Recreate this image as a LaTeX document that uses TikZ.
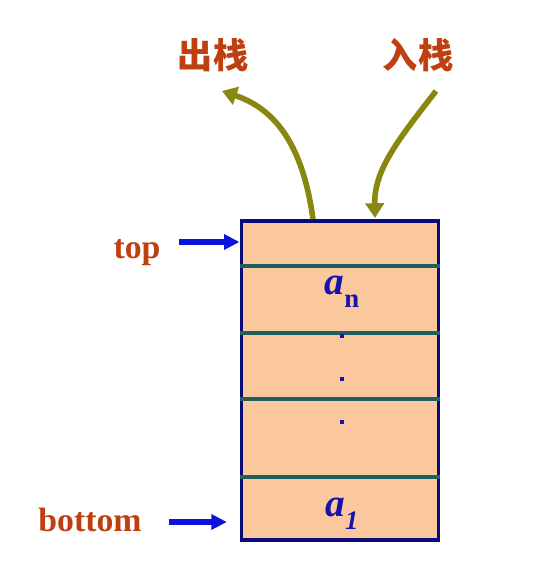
\documentclass[tikz,border=0pt]{standalone}
\usepackage{fontspec}
\setmainfont{Liberation Serif}
\newfontfamily\cjk{Noto Sans CJK SC}
\usetikzlibrary{arrows.meta}
\definecolor{rust}{RGB}{190,64,16}
\definecolor{peach}{RGB}{250,200,156}
\definecolor{navy}{RGB}{10,10,120}
\definecolor{teal}{RGB}{30,96,96}
\definecolor{olive}{RGB}{136,136,16}
\definecolor{ptrblue}{RGB}{10,20,220}
\definecolor{cellblue}{RGB}{20,20,170}
\newcommand{\lowsub}[1]{\raisebox{-0.32em}{\fontsize{19}{22}\selectfont #1}}
\begin{document}
\begin{tikzpicture}[x=0.025cm, y=-0.025cm]
  \tikzstyle{stack}=[draw=navy, line width=2.8pt, fill=peach, minimum width=4.925cm, minimum height=7.96cm, inner sep=0pt]
  \tikzstyle{sep}=[draw=teal, line width=2.6pt]
  \tikzstyle{label}=[text=rust, font=\fontsize{24}{28}\selectfont\bfseries, inner sep=0pt]
  \tikzstyle{op}=[text=rust, font=\fontsize{25}{29}\selectfont\cjk\bfseries, inner sep=0pt]
  \tikzstyle{cell}=[text=cellblue, font=\fontsize{28}{32}\selectfont\bfseries\itshape, inner sep=0pt]
  \tikzstyle{dot}=[fill=cellblue, minimum size=3pt, inner sep=0pt]
  \tikzstyle{ptr}=[draw=ptrblue, line width=4pt, -{Triangle[length=11pt, width=10.5pt]}]
  \tikzstyle{flow}=[draw=olive, line width=4pt, -{Triangle[length=10.5pt, width=13pt]}]

  \useasboundingbox (0,0) rectangle (552,566);

  \node[stack] (stack) at (340,380.5) {};

  \path[sep] (stack.west |- 0,266) -- (stack.east |- 0,266);
  \path[sep] (stack.west |- 0,333) -- (stack.east |- 0,333);
  \path[sep] (stack.west |- 0,399) -- (stack.east |- 0,399);
  \path[sep] (stack.west |- 0,477) -- (stack.east |- 0,477);

  \node[cell] (an) at (342,292) {a\lowsub{\upshape n}};
  \node[dot]  (d1) at (342,336) {};
  \node[dot]  (d2) at (342,379) {};
  \node[dot]  (d3) at (342,422) {};
  \node[cell] (a1) at (342,514) {a\lowsub{1}};

  \node[label] (top)    at (137,253) {top};
  \node[label] (bottom) at (90,520)  {bottom};
  \node[op]    (pop)    at (213,55)  {出栈};
  \node[op]    (push)   at (418,55)  {入栈};

  \coordinate (topfrom)    at (179,242);
  \coordinate (bottomfrom) at (169,522);
  \coordinate (popfrom)    at (313,219);
  \coordinate (popto)      at (222,91);
  \coordinate (pushfrom)   at (436,91);
  \coordinate (pushto)     at (375,218);

  \path[ptr] (topfrom) -- (topfrom -| stack.west);
  \path[ptr] (bottomfrom) -- ([xshift=-9pt]bottomfrom -| stack.west);
  \path[flow] (popfrom) .. controls (302,140) and (272,108) .. (popto);
  \path[flow] (pushfrom) .. controls (398,140) and (374,170) .. (pushto);
\end{tikzpicture}
\end{document}
